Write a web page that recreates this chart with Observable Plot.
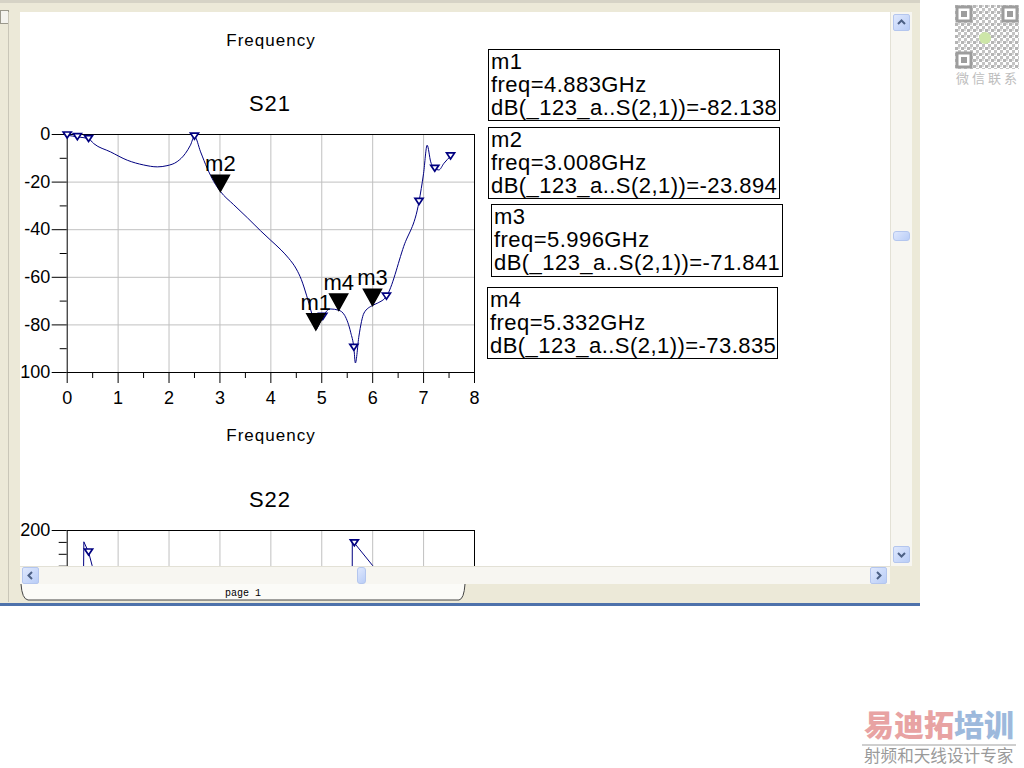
<!DOCTYPE html>
<html><head><meta charset="utf-8">
<script src="https://cdn.jsdelivr.net/npm/d3@7"></script>
<script src="https://cdn.jsdelivr.net/npm/@observablehq/plot@0.6"></script>
<style>
body{margin:0;background:#fff;width:1024px;height:768px;overflow:hidden;position:relative;font-family:"Liberation Sans",Arial,sans-serif}
.abs{position:absolute}
#win{left:0;top:0;width:920px;height:605px;background:#ece9d8}
#canvas{left:20px;top:12px;width:870px;height:554px;background:#fff;overflow:hidden}
#inner{left:-20px;top:-12px;width:1024px;height:768px}
.ttl{text-align:center;width:300px;color:#000;white-space:nowrap}
.mbox{border:1px solid #000;background:#fff;font-size:22px;letter-spacing:0.45px;line-height:23px;padding:0 2px;white-space:nowrap;box-sizing:border-box;color:#000;overflow:hidden}
.btn{width:17px;height:17px;box-sizing:border-box;border:1px solid #b4c6ee;border-radius:2px;background:linear-gradient(135deg,#dfe8fd,#b9cdf7)}
</style></head><body>
<div id="win" class="abs">
  <div class="abs" style="left:0;top:0;width:920px;height:3px;background:#d6d3c6"></div>
  <div class="abs" style="left:0;top:10px;width:7px;height:12px;border:1px solid #9a988c;background:#f4f3ee"></div>
  <div class="abs" style="left:8px;top:12px;width:1px;height:590px;background:#c9c6b8"></div>
  <div id="canvas" class="abs"><div id="inner" class="abs"></div></div>
  <!-- vertical scrollbar -->
  <div class="abs" style="left:890px;top:12px;width:22px;height:554px;background:#f7f6f1;border-left:1px solid #e3e1d6;box-sizing:border-box"></div>
  <div class="abs btn" style="left:893px;top:14px"><svg width="15" height="15"><path d="M4 9 L7.5 5.5 L11 9" stroke="#4d6185" stroke-width="2" fill="none"/></svg></div>
  <div class="abs btn" style="left:893px;top:546px"><svg width="15" height="15"><path d="M4 6 L7.5 9.5 L11 6" stroke="#4d6185" stroke-width="2" fill="none"/></svg></div>
  <div class="abs btn" style="left:893px;top:231px;height:10px;border-radius:3px"></div>
  <!-- horizontal scrollbar -->
  <div class="abs" style="left:20px;top:566px;width:870px;height:18px;background:#f7f6f1;border-top:1px solid #e3e1d6;box-sizing:border-box"></div>
  <div class="abs btn" style="left:22px;top:567px"><svg width="15" height="15"><path d="M9 4 L5.5 7.5 L9 11" stroke="#4d6185" stroke-width="2" fill="none"/></svg></div>
  <div class="abs btn" style="left:870px;top:567px"><svg width="15" height="15"><path d="M6 4 L9.5 7.5 L6 11" stroke="#4d6185" stroke-width="2" fill="none"/></svg></div>
  <div class="abs btn" style="left:357px;top:567px;width:9px;border-radius:3px"></div>
  <!-- page tab -->
  <svg class="abs" style="left:0;top:584px" width="920" height="21">
    <path d="M21 0 Q22 15 28 16 L459 16 Q464 15 465 0" fill="#fbfbf8" stroke="#444" stroke-width="1"/>
    <text x="243" y="12" text-anchor="middle" font-family="Liberation Mono, DejaVu Sans Mono, monospace" font-size="10" fill="#000">page 1</text>
  </svg>
  <div class="abs" style="left:0;top:603px;width:920px;height:3px;background:#4e72ab"></div>
</div>

<!-- watermarks -->
<svg class="abs" style="left:955px;top:5px" width="64" height="64">
  <defs><pattern id="qp" width="6" height="6" patternUnits="userSpaceOnUse">
    <rect width="3" height="3" fill="#b5b5b5"/><rect x="3" y="3" width="3" height="3" fill="#c4c4c4"/><rect x="3" y="0" width="2" height="2" fill="#d8d8d8"/></pattern></defs>
  <rect width="64" height="64" fill="url(#qp)"/>
  <g fill="none" stroke="#9d9d9d" stroke-width="3">
    <rect x="2" y="2" width="14" height="14" fill="#fff"/><rect x="48" y="2" width="14" height="14" fill="#fff"/><rect x="2" y="48" width="14" height="14" fill="#fff"/>
  </g>
  <g fill="#9d9d9d"><rect x="6" y="6" width="6" height="6"/><rect x="52" y="6" width="6" height="6"/><rect x="6" y="52" width="6" height="6"/></g>
  <circle cx="30" cy="33" r="6" fill="#cde6a8"/>
</svg>
<div class="abs" style="left:956px;top:68px;font-family:'Noto Sans CJK SC';font-size:13px;color:#bdbdbd;letter-spacing:3px">微信联系</div>
<div class="abs" style="left:864px;top:703px;font-family:'Noto Sans CJK SC';font-size:30px;font-weight:900;line-height:40px;white-space:nowrap"><span style="color:#e8a3a3">易迪拓</span><span style="color:#9db9dc">培训</span></div>
<div class="abs" style="left:862px;top:744px;width:154px;height:2px;background:#cfcfcf"></div>
<div class="abs" style="left:864px;top:744px;font-family:'Noto Sans CJK SC';font-size:16.6px;color:#9a9a9a;white-space:nowrap;line-height:22px">射频和天线设计专家</div>

<script>
// ---------- data ----------
const s21Freq = [0, 0.2, 0.42, 0.52, 0.85, 1.18, 1.5, 1.77, 1.96, 2.16, 2.32, 2.42, 2.5, 2.62, 2.75, 2.88, 3.008, 3.27, 3.54, 3.8, 4.0, 4.2, 4.35, 4.5, 4.6, 4.7, 4.8, 4.86, 4.883, 4.93, 5.02, 5.17, 5.332, 5.45, 5.57, 5.63, 5.66, 5.73, 5.83, 5.996, 6.1, 6.27, 6.61, 6.91, 7.0, 7.07, 7.14, 7.22, 7.3, 7.4, 7.53];
const s21dB = [-0.3, -1, -1.8, -3.8, -7.3, -10.8, -12.8, -13.6, -13.1, -11.4, -8, -4.5, -0.8, -7.3, -14.2, -19.8, -23.894, -29.5, -35, -40.5, -44.5, -48.5, -52, -56.5, -61, -67.5, -75, -80, -82.138, -80.5, -76.5, -73.3, -73.835, -76, -83.3, -89.5, -96, -84.7, -75, -71.841, -70.8, -68, -47, -28.2, -16.3, -4.5, -11.5, -14.3, -14.9, -12.1, -9.1];
const symFreq = [0, 0.2, 0.42, 2.5, 5.02, 5.63, 6.27, 6.91, 7.22, 7.53];
const symDB = [-0.3, -1, -1.8, -0.8, -76.5, -89.5, -68, -28.2, -14.3, -9.1];
const markerNames = ["m1", "m2", "m3", "m4"];
const markerFreq = [4.883, 3.008, 5.996, 5.332];
const markerDB = [-82.138, -23.894, -71.841, -73.835];
const xMajor = [0, 1, 2, 3, 4, 5, 6, 7, 8];
const xMinor = [0.5, 1.5, 2.5, 3.5, 4.5, 5.5, 6.5, 7.5];
const yMajor = [0, -20, -40, -60, -80, -100];
const yMinor = [-10, -30, -50, -70, -90];
const s22FreqA = [0.32, 0.327, 0.42, 0.49, 0.55];
const s22ValA = [120, 181, 163.5, 141, 125];
const s22FreqB = [5.598, 5.6, 5.64, 6.0, 6.08];
const s22ValB = [120, 183, 179, 141, 130];
const s22SymFreq = [0.42, 5.64];
const s22SymVal = [163.5, 179];
const s22Labeled = [200];
const s22Minor = [180, 160, 140, 120];

// ---------- helpers ----------
const tipDown = {draw(ctx, size) { const r = Math.sqrt(size / Math.PI); ctx.moveTo(0, 0); ctx.lineTo(-r, -1.8 * r); ctx.lineTo(r, -1.8 * r); ctx.closePath(); }};
const triDown = {draw(ctx, size) { const r = Math.sqrt(size / Math.PI); ctx.moveTo(0, 0.7 * r); ctx.lineTo(-r, -0.8 * r); ctx.lineTo(r, -0.8 * r); ctx.closePath(); }};
const NAVY = "#000080";
const common = {
  width: 500, height: 330, marginLeft: 66.7, marginRight: 26, marginTop: 44, marginBottom: 48,
  x: {domain: [0, 8]},
  style: {fontFamily: '"Liberation Sans", Arial, sans-serif', fontSize: "18px", background: "transparent", overflow: "visible", color: "black"}
};
const inner = document.getElementById("inner");
function place(el, left, top) { el.style.position = "absolute"; el.style.left = left + "px"; el.style.top = top + "px"; inner.appendChild(el); }
function label(text, cx, cy, size, ls) {
  const d = document.createElement("div"); d.className = "ttl"; d.textContent = text;
  d.style.fontSize = size + "px"; d.style.lineHeight = (size + 4) + "px"; d.style.letterSpacing = ls + "px";
  place(d, cx - 150, cy - (size + 4) / 2);
}

// ---------- S21 ----------
const s21 = s21Freq.map((f, i) => ({f, v: s21dB[i]}));
const sym = symFreq.map((f, i) => ({f, v: symDB[i]}));
const markers = markerNames.map((n, i) => ({n, f: markerFreq[i], v: markerDB[i]}));
const p21 = Plot.plot({
  ...common,
  y: {domain: [-100, 0]},
  marks: [
    Plot.gridX({ticks: xMajor.slice(1, -1), stroke: "#c0c0c0", strokeOpacity: 1}),
    Plot.gridY({ticks: yMajor.slice(1, -1), stroke: "#c0c0c0", strokeOpacity: 1}),
    Plot.axisY({ticks: yMajor, tickSize: 15, tickPadding: 2, tickFormat: d => String(d), label: null}),
    Plot.axisY({ticks: yMinor, tickSize: 7, tickFormat: () => "", label: null}),
    Plot.axisX({ticks: xMajor, tickSize: 11, tickPadding: 8, tickFormat: d => String(d), label: null}),
    Plot.axisX({ticks: xMinor, tickSize: 6, tickFormat: () => "", label: null}),
    Plot.frame({stroke: "black"}),
    Plot.line(s21, {x: "f", y: "v", stroke: NAVY, strokeWidth: 1, curve: "monotone-x"}),
    Plot.dot(sym, {x: "f", y: "v", symbol: triDown, r: 4, stroke: NAVY, fill: "white", strokeWidth: 1.7}),
    Plot.dot(markers, {x: "f", y: "v", symbol: tipDown, r: 9, fill: "black", stroke: "black"}),
    Plot.text(markers, {x: "f", y: "v", text: "n", dy: -20, lineAnchor: "bottom", fontSize: 22, fill: "black"})
  ]
});
place(p21, 0, 90);

// ---------- S22 (only its top edge is visible; the rest is scrolled out of view) ----------
const s22 = [
  ...s22FreqA.map((f, i) => ({f, v: s22ValA[i], k: "a"})),
  ...s22FreqB.map((f, i) => ({f, v: s22ValB[i], k: "b"}))
];
const s22sym = s22SymFreq.map((f, i) => ({f, v: s22SymVal[i]}));
const p22 = Plot.plot({
  ...common,
  marginTop: 40, marginBottom: 0, height: 278,
  x: {domain: [0, 8], axis: null},
  y: {domain: [-200, 200], axis: null},
  marks: [
    Plot.gridX({ticks: xMajor.slice(1, -1), stroke: "#c0c0c0", strokeOpacity: 1}),
    Plot.axisY({ticks: s22Labeled, tickSize: 15, tickPadding: 2, tickFormat: d => String(d), label: null}),
    Plot.axisY({ticks: s22Minor, tickSize: 8, tickFormat: () => "", label: null}),
    Plot.frame({stroke: "black"}),
    Plot.line(s22, {x: "f", y: "v", z: "k", stroke: NAVY, strokeWidth: 1}),
    Plot.dot(s22sym, {x: "f", y: "v", symbol: triDown, r: 4, stroke: NAVY, fill: "white", strokeWidth: 1.7})
  ]
});
place(p22, 0, 490);

// ---------- titles ----------
label("Frequency", 271, 40, 17, 1);
label("S21", 270, 104, 22, 1);
label("Frequency", 271, 435, 17, 1);
label("S22", 270, 500, 22, 1);

// ---------- marker readouts ----------
const boxPos = [[488, 49, 292, 72], [488, 127, 292, 72], [491, 204, 292, 73], [487, 287, 291, 72]];
markers.forEach((m, i) => {
  const d = document.createElement("div"); d.className = "mbox";
  const [l, t, w, h] = boxPos[i];
  d.style.width = w + "px"; d.style.height = h + "px";
  d.innerHTML = `${m.n}<br>freq=${m.f.toFixed(3)}GHz<br>dB(_123_a..S(2,1))=${m.v.toFixed(3)}`;
  place(d, l, t);
});
</script>
</body></html>
